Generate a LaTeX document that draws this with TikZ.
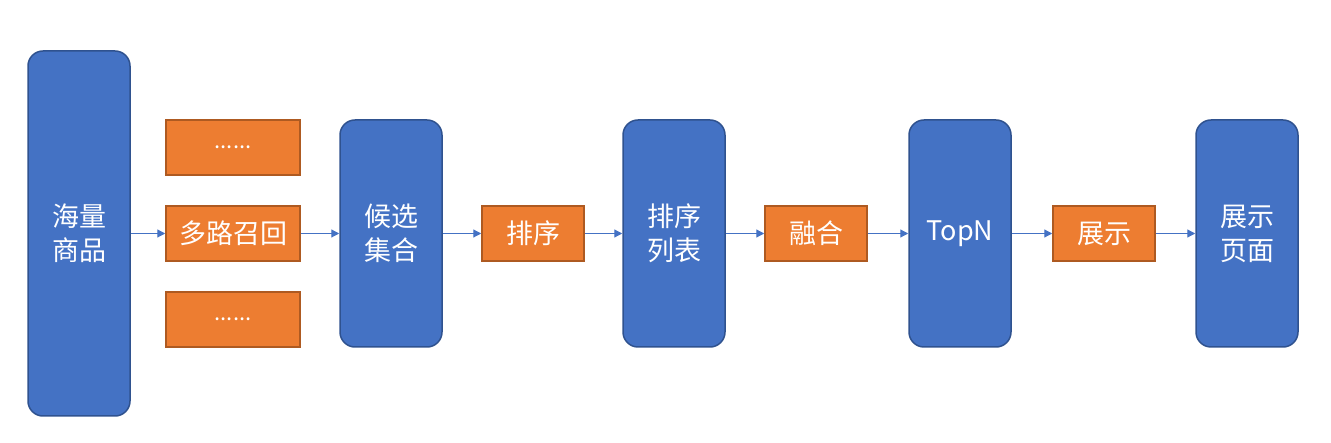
\documentclass[tikz,border=0pt]{standalone}
\usepackage{fontspec}
\setmainfont{Noto Sans CJK SC}
\usetikzlibrary{positioning, arrows.meta}

\definecolor{boxblue}{HTML}{4472C4}
\definecolor{lineblue}{HTML}{2F528F}
\definecolor{boxorange}{HTML}{ED7D31}
\definecolor{lineorange}{HTML}{AE5A21}

\tikzset{
  stage/.style={draw=lineblue, fill=boxblue, line width=1.5pt, rounded corners=15pt,
    minimum width=102pt, minimum height=227pt, text=white, align=center,
    font=\fontsize{27}{34}\selectfont},
  op/.style={draw=lineorange, fill=boxorange, line width=1.5pt,
    minimum width=102pt, minimum height=55pt, text=white,
    font=\fontsize{27}{30}\selectfont},
  flow/.style={->, color=boxblue, line width=1.2pt}
}

\begin{document}
\begin{tikzpicture}[x=1pt, y=-1pt, on grid, node distance=142pt,
    >={Triangle[length=8pt, width=8pt]}]
  \useasboundingbox (0,0) rectangle (1331,443);
  \node[stage, minimum height=365pt] (goods) at (79,233.5) {海量\\商品};
  \node[op, minimum width=134pt] (recall) [right=154pt of goods] {多路召回};
  \node[op, minimum width=134pt, font=\fontsize{22}{24}\selectfont] (more1) [above=86pt of recall] {......};
  \node[op, minimum width=134pt, font=\fontsize{22}{24}\selectfont] (more2) [below=86pt of recall] {......};
  \node[stage] (cand) [right=158pt of recall] {候选\\集合};
  \node[op] (rank) [right=of cand] {排序};
  \node[stage] (ranklist) [right=141pt of rank] {排序\\列表};
  \node[op] (fuse) [right=of ranklist] {融合};
  \node[stage] (topn) [right=144pt of fuse] {TopN};
  \node[op] (show) [right=144pt of topn] {展示};
  \node[stage] (page) [right=143pt of show] {展示\\页面};
  \path[flow]
    (goods) edge (recall)
    (recall) edge (cand)
    (cand) edge (rank)
    (rank) edge (ranklist)
    (ranklist) edge (fuse)
    (fuse) edge (topn)
    (topn) edge (show)
    (show) edge (page);
\end{tikzpicture}
\end{document}
